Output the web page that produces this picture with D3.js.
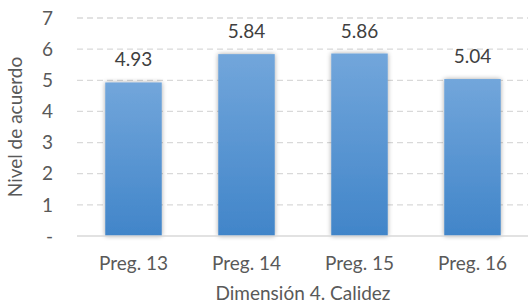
<!DOCTYPE html>
<html>
<head>
<meta charset="utf-8">
<script src="https://cdn.jsdelivr.net/npm/d3@7"></script>
<style>
body { margin: 0; background: #fff; }
text { font-family: Lato, "Open Sans", sans-serif; }
</style>
</head>
<body>
<div id="chart"></div>
<script>
// data
var categories = ["Preg. 13", "Preg. 14", "Preg. 15", "Preg. 16"];
var values = [4.93, 5.84, 5.86, 5.04];
var yTicks = [0, 1, 2, 3, 4, 5, 6, 7];

var width = 528;
var height = 306;
var plotLeft = 77, plotRight = 529, plotTop = 18, plotBottom = 236;
var fontSize = "19px";

var svg = d3.select("#chart")
    .append("svg")
        .attr("width", width)
        .attr("height", height);

var defs = svg.append("defs");
var grad = defs.append("linearGradient")
    .attr("id", "barGrad")
    .attr("x1", 0).attr("y1", 0).attr("x2", 0).attr("y2", 1);
grad.append("stop").attr("offset", "0%").attr("stop-color", "#72a6db");
grad.append("stop").attr("offset", "100%").attr("stop-color", "#4185c9");

var shadow = defs.append("filter").attr("id", "shadow")
    .attr("x", "-30%").attr("y", "-10%").attr("width", "160%").attr("height", "120%");
shadow.append("feGaussianBlur").attr("in", "SourceAlpha").attr("stdDeviation", 2.5);
shadow.append("feComponentTransfer").append("feFuncA").attr("type", "linear").attr("slope", 0.35);
var merge = shadow.append("feMerge");
merge.append("feMergeNode");
merge.append("feMergeNode").attr("in", "SourceGraphic");

var x = d3.scaleBand()
    .domain(categories)
    .range([plotLeft, plotRight])
    .paddingInner(0.5)
    .paddingOuter(0.25);

var y = d3.scaleLinear()
    .domain([0, 7])
    .range([plotBottom, plotTop]);

// gridlines
svg.selectAll("grid")
    .data(yTicks.filter(function(d){ return d > 0; }))
    .enter()
    .append("line")
    .attr("x1", plotLeft)
    .attr("x2", width)
    .attr("y1", function(d){ return y(d); })
    .attr("y2", function(d){ return y(d); })
    .style("stroke", "#d9d9d9")
    .style("stroke-width", 1.3)
    .style("stroke-dasharray", "6,4");

// y tick labels
svg.selectAll("ytick")
    .data(yTicks)
    .enter()
    .append("text")
    .attr("x", 53)
    .attr("y", function(d){ return y(d); })
    .attr("dy", "0.35em")
    .attr("text-anchor", "end")
    .style("font-size", fontSize)
    .style("fill", "#595959")
    .text(function(d){ return d === 0 ? "-" : d; });

// bars
svg.selectAll("bar")
    .data(values)
    .enter()
    .append("rect")
    .attr("x", function(d, i){ return x(categories[i]); })
    .attr("y", function(d){ return y(d); })
    .attr("width", x.bandwidth())
    .attr("height", function(d){ return y(0) - y(d); })
    .style("fill", "url(#barGrad)")
    .attr("filter", "url(#shadow)");

// baseline
svg.append("line")
    .attr("x1", plotLeft)
    .attr("x2", width)
    .attr("y1", y(0))
    .attr("y2", y(0))
    .style("stroke", "#d9d9d9")
    .style("stroke-width", 1.5);

// value labels
svg.selectAll("vlabel")
    .data(values)
    .enter()
    .append("text")
    .attr("x", function(d, i){ return x(categories[i]) + x.bandwidth() / 2; })
    .attr("y", function(d){ return y(d) - 16; })
    .attr("text-anchor", "middle")
    .style("font-size", fontSize)
    .style("fill", "#404040")
    .text(function(d){ return d.toFixed(2); });

// x tick labels
svg.selectAll("xtick")
    .data(categories)
    .enter()
    .append("text")
    .attr("x", function(d){ return x(d) + x.bandwidth() / 2; })
    .attr("y", 270)
    .attr("text-anchor", "middle")
    .style("font-size", fontSize)
    .style("fill", "#595959")
    .text(function(d){ return d; });

// axis titles
svg.append("text")
    .attr("x", (plotLeft + plotRight) / 2)
    .attr("y", 300)
    .attr("text-anchor", "middle")
    .style("font-size", fontSize)
    .style("fill", "#595959")
    .text("Dimensión 4. Calidez");

svg.append("text")
    .attr("transform", "translate(15," + ((plotTop + plotBottom) / 2) + ")rotate(-90)")
    .attr("dy", "0.35em")
    .attr("text-anchor", "middle")
    .style("font-size", fontSize)
    .style("fill", "#595959")
    .text("Nivel de acuerdo");
</script>
</body>
</html>
